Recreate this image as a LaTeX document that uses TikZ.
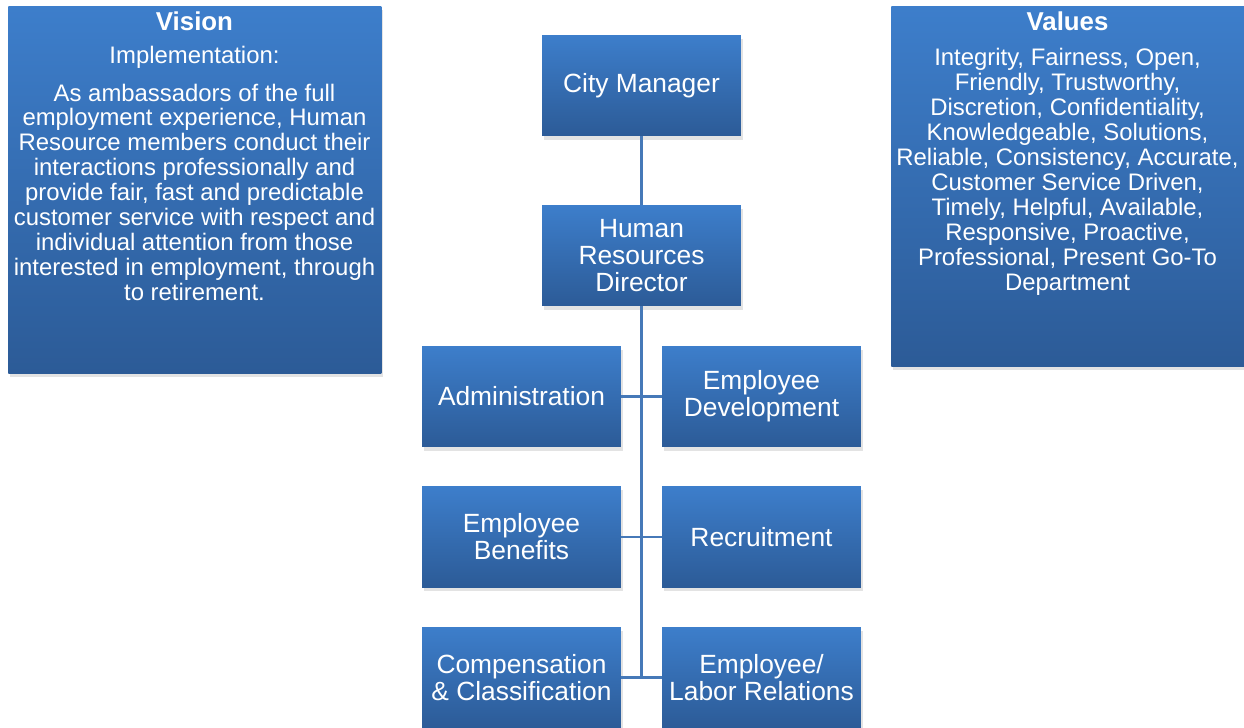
\documentclass[tikz,border=0pt]{standalone}
\usepackage{fontspec}
\setmainfont{Liberation Sans}
\usepackage{tikz}
\usetikzlibrary{shadows}
\usepackage{xcolor}

\definecolor{boxtop}{HTML}{3D7ECB}
\definecolor{boxbot}{HTML}{2C5B97}
\definecolor{linkblue}{HTML}{4679B8}

\tikzset{
	unit/.style={rectangle, minimum width=3.98cm, minimum height=2.02cm,
		top color=boxtop, bottom color=boxbot, text=white, align=center,
		inner sep=1pt, font=\fontsize{15}{15.4}\selectfont,
		drop shadow={opacity=0.22, shadow xshift=1pt, shadow yshift=-2pt}},
	panel/.style={rectangle, anchor=north west, inner sep=0pt,
		top color=boxtop, bottom color=boxbot,
		drop shadow={opacity=0.22, shadow xshift=1pt, shadow yshift=-2pt}},
	paneltext/.style={anchor=north, text=white, align=center, inner sep=0pt,
		font=\fontsize{13.6}{14.2}\selectfont},
	link/.style={draw=linkblue, line width=1.5pt}
}

\begin{document}
\begin{tikzpicture}[x=0.02cm,y=-0.02cm]
		
		\useasboundingbox (0,0) rectangle (1244,727);
		\clip (0,0) rectangle (1244,727);
		
		% Side panels
		\node[panel, minimum width=7.46cm, minimum height=7.34cm] (vision) at (8,6) {};
		\node[paneltext] (visiontxt) at (194.5,11) {{\bfseries\fontsize{14.7}{15}\selectfont Vision}\\[5pt]
			Implementation:\\[7pt]
			As ambassadors of the full\\
			employment experience, Human\\
			Resource members conduct their\\
			interactions professionally and\\
			provide fair, fast and predictable\\
			customer service with respect and\\
			individual attention from those\\
			interested in employment, through\\
			to retirement.};
		
		\node[panel, minimum width=7.06cm, minimum height=7.2cm] (values) at (891,6) {};
		\node[paneltext] (valuestxt) at (1067.5,11) {{\bfseries\fontsize{14.7}{15}\selectfont Values}\\[6pt]
			Integrity, Fairness, Open,\\
			Friendly, Trustworthy,\\
			Discretion, Confidentiality,\\
			Knowledgeable, Solutions,\\
			Reliable, Consistency, Accurate,\\
			Customer Service Driven,\\
			Timely, Helpful, Available,\\
			Responsive, Proactive,\\
			Professional, Present Go-To\\
			Department};
		
		% Chart boxes
		\node[unit] (cm) at (641.5,85.5) {City Manager};
		\node[unit] (hr) at (641.5,255.5) {Human\\Resources\\Director};
		\node[unit] (admin) at (521.5,396.5) {Administration};
		\node[unit] (empdev) at (761.5,396.5) {Employee\\Development};
		\node[unit] (benefits) at (521.5,537) {Employee\\Benefits};
		\node[unit] (recruit) at (761.5,537) {Recruitment};
		\node[unit] (comp) at (521.5,677.5) {Compensation\\\& Classification};
		\node[unit] (labor) at (761.5,677.5) {Employee/\\Labor Relations};
		
		% Connectors
		\draw[link] (cm) -- (hr);
		\draw[link] (hr.south) -- (hr.south |- comp.east);
		\foreach \l/\r in {admin/empdev,benefits/recruit,comp/labor}
		\draw[link] (\l.east) -- (\r.west);
		
	\end{tikzpicture}
\end{document}
